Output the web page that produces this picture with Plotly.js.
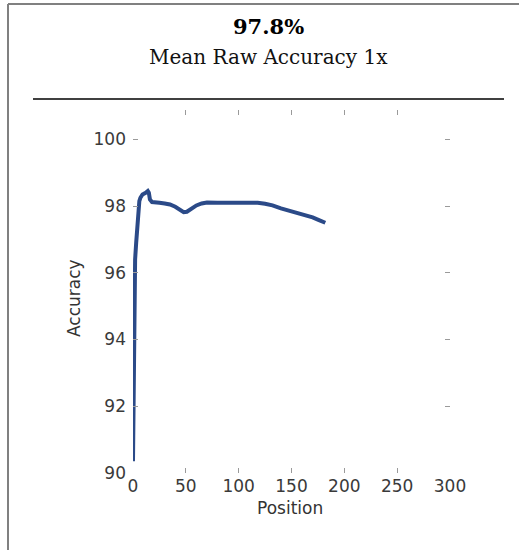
<!DOCTYPE html>
<html>
<head>
<meta charset="utf-8">
<script src="https://cdn.plot.ly/plotly-3.0.1.min.js"></script>
<style>html,body{margin:0;padding:0;background:#fff;}#chart{width:519px;height:550px;}</style>
</head>
<body>
<div id="chart"></div>
<script>
// Data
const positions = [0, 1, 2, 3, 4, 5, 6, 7, 9, 12, 14, 15, 16, 18, 21, 25, 30, 35, 40, 45, 48, 51, 55, 60, 65, 70, 80, 90, 100, 110, 118, 125, 132, 140, 150, 160, 170, 176, 182];
const accuracy  = [90.35, 95.6, 96.4, 96.9, 97.4, 97.9, 98.15, 98.25, 98.35, 98.4, 98.45, 98.4, 98.2, 98.12, 98.12, 98.1, 98.08, 98.05, 97.98, 97.87, 97.82, 97.83, 97.92, 98.02, 98.08, 98.11, 98.1, 98.1, 98.1, 98.11, 98.1, 98.07, 98.02, 97.93, 97.85, 97.76, 97.66, 97.58, 97.5];
const xTicks = [0, 50, 100, 150, 200, 250, 300];
const yTicks = [90, 92, 94, 96, 98, 100];
const headline = "97.8%";
const subtitle = "Mean Raw Accuracy 1x";
const xLabel = "Position";
const yLabel = "Accuracy";

const L = 133, R = 69, T = 110, B = 77, W = 519, H = 550;
const pw = W - L - R, ph = H - T - B;
const px = x => (x - L) / pw;
const py = y => (H - B - y) / ph;

const trace = {
  x: positions, y: accuracy, type: 'scatter', mode: 'lines',
  line: {color: '#2b4a88', width: 4}, hoverinfo: 'skip'
};

const tickFont = {family: 'DejaVu Sans', size: 17, color: '#3a3a3a'};
const layout = {
  width: W, height: H,
  margin: {l: L, r: R, t: T, b: B, pad: 0},
  paper_bgcolor: '#ffffff', plot_bgcolor: '#ffffff',
  showlegend: false,
  xaxis: {
    range: [0, 300], tickvals: xTicks, ticktext: xTicks.map(String),
    ticks: 'inside', ticklen: 5, tickwidth: 1, tickcolor: '#9a9a9a',
    mirror: 'ticks', showline: false, showgrid: false, zeroline: false,
    tickfont: tickFont, ticklabelstandoff: 1, fixedrange: true
  },
  yaxis: {
    range: [90, 100.88], tickvals: yTicks, ticktext: yTicks.map(String),
    ticks: 'inside', ticklen: 5, tickwidth: 1, tickcolor: '#9a9a9a',
    mirror: 'ticks', showline: false, showgrid: false, zeroline: false,
    tickfont: tickFont, ticklabelstandoff: 6, fixedrange: true
  },
  shapes: [
    {type: 'line', xref: 'paper', yref: 'paper', x0: px(33), x1: px(504), y0: py(99), y1: py(99), line: {color: '#000', width: 1.5}},
    {type: 'line', xref: 'paper', yref: 'paper', x0: px(8), x1: px(519), y0: py(4), y1: py(4), line: {color: '#808080', width: 2}},
    {type: 'line', xref: 'paper', yref: 'paper', x0: px(8), x1: px(8), y0: py(4), y1: py(550), line: {color: '#808080', width: 2}}
  ],
  annotations: [
    {text: '<b>' + headline + '</b>', xref: 'paper', yref: 'paper', x: px(268), y: py(26), xanchor: 'center', yanchor: 'middle', showarrow: false, font: {family: 'DejaVu Serif', size: 21, color: '#000'}},
    {text: subtitle, xref: 'paper', yref: 'paper', x: px(268), y: py(57), xanchor: 'center', yanchor: 'middle', showarrow: false, font: {family: 'DejaVu Serif', size: 20, color: '#111'}},
    {text: xLabel, xref: 'paper', yref: 'paper', x: px(290), y: py(508), xanchor: 'center', yanchor: 'middle', showarrow: false, font: {family: 'DejaVu Sans', size: 17, color: '#333'}},
    {text: yLabel, xref: 'paper', yref: 'paper', x: px(74), y: py(298), xanchor: 'center', yanchor: 'middle', textangle: -90, showarrow: false, font: {family: 'DejaVu Sans', size: 17, color: '#333'}}
  ]
};

Plotly.newPlot('chart', [trace], layout, {displayModeBar: false, staticPlot: true});
</script>
</body>
</html>
